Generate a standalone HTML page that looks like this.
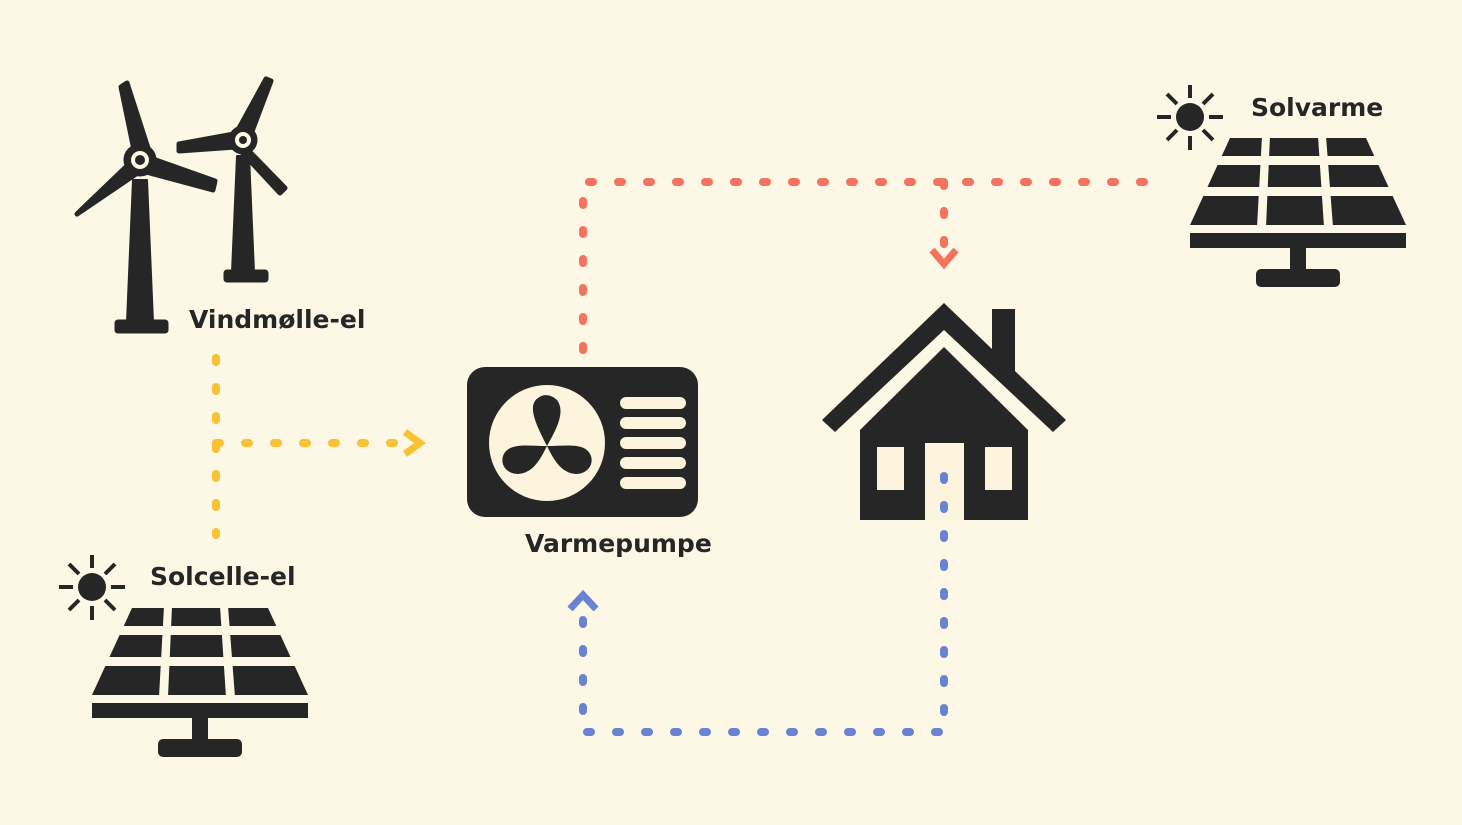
<!DOCTYPE html>
<html><head><meta charset="utf-8"><style>
html,body{margin:0;padding:0;background:#fdf7e6;}
svg{display:block}
text{font-family:"DejaVu Sans","Liberation Sans",sans-serif;font-weight:bold;font-size:25px;fill:#262626}
</style></head><body>
<svg width="1462" height="825" viewBox="0 0 1462 825" xmlns="http://www.w3.org/2000/svg">
<rect width="1462" height="825" fill="#fdf7e6"/>
<defs>
<g id="solar">
  <g stroke="#262626" stroke-width="4" stroke-linecap="butt">
    <line x1="1190" y1="98" x2="1190" y2="85"/><line x1="1190" y1="136" x2="1190" y2="150"/>
    <line x1="1171" y1="117" x2="1157" y2="117"/><line x1="1209" y1="117" x2="1223" y2="117"/>
    <line x1="1177" y1="104" x2="1167" y2="94"/><line x1="1203" y1="104" x2="1213" y2="94"/>
    <line x1="1177" y1="130" x2="1167" y2="140"/><line x1="1203" y1="130" x2="1213" y2="140"/>
  </g>
  <circle cx="1190" cy="117" r="14" fill="#262626"/>
  <polygon points="1230,138 1366,138 1406,225 1190,225" fill="#262626"/>
  <g fill="#fdf7e6">
    <rect x="1180" y="156" width="230" height="9"/>
    <rect x="1180" y="187" width="230" height="9"/>
    <polygon points="1262,136 1270,136 1266,227 1257,227"/>
    <polygon points="1318,136 1326,136 1333,227 1324,227"/>
  </g>
  <rect x="1190" y="233" width="216" height="15" fill="#262626"/>
  <rect x="1290" y="246" width="16" height="26" fill="#262626"/>
  <rect x="1256" y="269" width="84" height="18" rx="5" fill="#262626"/>
</g>
</defs>
<!-- connectors -->
<g fill="none" stroke-width="8" stroke-linecap="round" stroke-dasharray="4 25">
  <path d="M583 350 V182 H1155" stroke="#f4735f"/>
  <path d="M944 182 V245" stroke="#f4735f"/>
  <path d="M216 358 V535" stroke="#f9c134"/>
  <path d="M216 443 H400" stroke="#f9c134"/>
  <path d="M944 476 V732 H583 V615" stroke="#6a82d2"/>
</g>
<g fill="none" stroke-width="7" stroke-linecap="butt" stroke-linejoin="miter">
  <polyline points="932,250 944,264 956,250" stroke="#f4735f"/>
  <polyline points="405,432 420,443 405,454" stroke="#f9c134"/>
  <polyline points="570,609 583,595 596,609" stroke="#6a82d2"/>
</g>
<!-- wind turbines -->
<g fill="#262626" stroke="#262626" stroke-linecap="round" stroke-linejoin="round">
  <polygon points="133,180 147,180 153,322 127,322" stroke-width="2"/>
  <rect x="115" y="320" width="53" height="13" rx="3"/>
  <polygon points="134,150 121,87 127,83 148,148" stroke-width="5"/>
  <polygon points="150,158 215,181 213,190 146,172" stroke-width="5"/>
  <polygon points="130,163 81,210 77,214 136,174" stroke-width="5"/>
  <circle cx="140" cy="160" r="16"/>
  <circle cx="140" cy="160" r="9" fill="#fdf7e6" stroke="none"/>
  <circle cx="140" cy="160" r="5" stroke="none"/>
  <polygon points="237,156 249,156 254,272 232,272" stroke-width="2"/>
  <rect x="224" y="270" width="44" height="12" rx="3"/>
  <polygon points="238,130 266,79 271,81 251,134" stroke-width="5"/>
  <polygon points="248,150 285,188 280,193 240,150" stroke-width="5"/>
  <polygon points="234,134 179,144 179,151 236,147" stroke-width="5"/>
  <circle cx="243" cy="140" r="14"/>
  <circle cx="243" cy="140" r="8" fill="#fdf7e6" stroke="none"/>
  <circle cx="243" cy="140" r="4" stroke="none"/>
</g>
<!-- solar panels -->
<use href="#solar"/>
<use href="#solar" transform="translate(-1098,470)"/>
<!-- heat pump -->
<rect x="467" y="367" width="231" height="150" rx="18" fill="#262626"/>
<ellipse cx="547" cy="443" rx="58" ry="58" fill="#fcf4dc"/>
<g fill="#262626">
  <path d="M547 446 C538 428 526 406 538 398 C544 393 552 395 557 400 C566 412 556 430 547 446Z"/>
  <path d="M547 446 C528 446 508 442 503 456 C500 466 508 474 518 474 C533 473 540 460 547 446Z"/>
  <path d="M547 446 C566 446 586 442 591 456 C594 466 586 474 576 474 C561 473 554 460 547 446Z"/>
</g>
<g fill="#fcf4dc">
  <rect x="620" y="397" width="66" height="12" rx="6"/>
  <rect x="620" y="417" width="66" height="12" rx="6"/>
  <rect x="620" y="437" width="66" height="12" rx="6"/>
  <rect x="620" y="457" width="66" height="12" rx="6"/>
  <rect x="620" y="477" width="66" height="12" rx="6"/>
</g>
<!-- house -->
<g fill="#262626">
  <rect x="992" y="309" width="23" height="65"/>
  <polygon points="944,303 1066,420 1053,432 944,330 835,432 822,420"/>
  <polygon points="944,347 1028,430 1028,520 860,520 860,430"/>
</g>
<g fill="#fcf4dc">
  <rect x="877" y="447" width="27" height="43"/>
  <rect x="985" y="447" width="27" height="43"/>
  <rect x="925" y="443" width="39" height="77"/>
</g>
<path d="M944 476 V520" stroke="#6a82d2" stroke-width="8" stroke-linecap="round" stroke-dasharray="4 25" fill="none"/>
<!-- labels -->
<text x="189" y="328">Vindmølle-el</text>
<text x="525" y="552">Varmepumpe</text>
<text x="150" y="585">Solcelle-el</text>
<text x="1251" y="116">Solvarme</text>
</svg>
</body></html>
